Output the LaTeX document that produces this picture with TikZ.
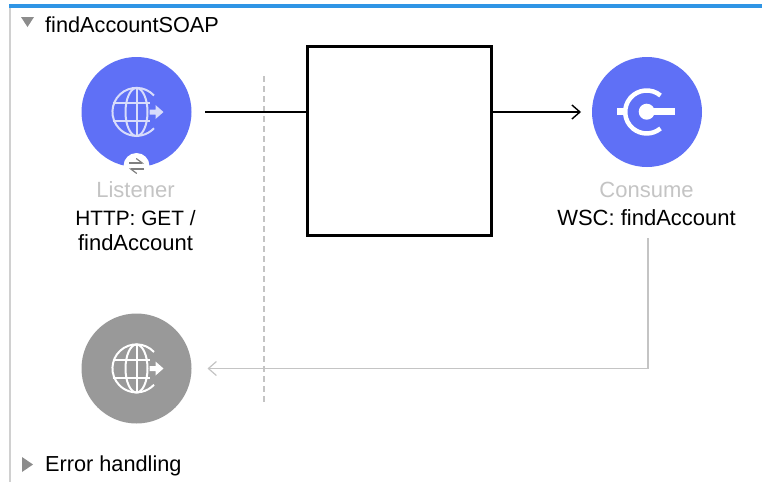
\documentclass[tikz,border=0pt]{standalone}
\usepackage{fontspec}
\setmainfont{Liberation Sans}
\usepackage{xcolor}
\usetikzlibrary{arrows.meta,positioning,calc}
\definecolor{flowblue}{HTML}{5F70F6}
\definecolor{barblue}{HTML}{2F95E5}
\definecolor{errgray}{HTML}{999999}
\definecolor{paleicon}{HTML}{D8DCFB}
\definecolor{labelgray}{HTML}{C4C4C4}
\tikzset{
    procnode/.style={circle, fill=#1, minimum size=110pt, inner sep=0pt},
    caption/.style={font=\fontsize{22}{26}\selectfont, inner sep=0pt, anchor=center},
    heading/.style={font=\fontsize{21.7}{26}\selectfont, inner sep=0pt, anchor=west},
    flowline/.style={line width=1.4pt, -{Straight Barb[length=8pt,width=14pt]}},
    backline/.style={line width=1.2pt, labelgray, -{Straight Barb[length=8pt,width=14pt]}},
}
% globe with the small arrow on its right side
\newcommand{\globeicon}[2]{
    \begin{scope}[shift={(#1)}, #2, line width=2pt]
        \draw (17.5,-16.5) arc[start angle=-43, end angle=-317, radius=24];
        \draw (0,0) ellipse (11 and 24);
        \draw (0,-24) -- (0,24);
        \draw (-24,-9) -- (13,-9);
        \draw (-24,9) -- (13,9);
        \fill[#2] (13,-2.5) -- (19,-2.5) -- (19,-7) -- (27,0) -- (19,7) -- (19,2.5) -- (13,2.5) -- cycle;
    \end{scope}
}
\begin{document}
\begin{tikzpicture}[x=1pt,y=-1pt]
    \useasboundingbox (0,0) rectangle (762,482);
    \fill[white] (0,0) rectangle (762,482);
    \fill[labelgray!80] (9,7) rectangle (11,482);
    \fill[barblue] (9,4) rectangle (762,8);
    \draw[labelgray, line width=1.3pt, dash pattern=on 6pt off 4pt] (264,76) -- (264,403);

    \fill[gray!90] (21,17) -- (34,17) -- (27.5,27) -- cycle;
    \fill[gray!90] (22,457) -- (33,464.5) -- (22,472) -- cycle;
    \node[heading] (flowname) at (45,24.5) {findAccountSOAP};
    \node[heading] (errname) at (45,466) {Error handling};

    \node[procnode=flowblue, outer sep=13.5pt] (listener) at (136.5,112) {};
    \node[procnode=flowblue, outer sep=11pt] (consume) at (647,112) {};
    \node[procnode=errgray, outer sep=16pt] (errsource) at (136.5,368.5) {};
    \node[draw, line width=3pt, minimum width=184pt, minimum height=189pt, inner sep=0pt] (blankbox) at (399,140.5) {};

    \globeicon{136.5,112}{paleicon}
    \globeicon{136.5,368.5}{white}

    % consume icon
    \draw[white, line width=4.5pt] (660.5,95.5) arc[start angle=-50, end angle=-310, radius=21.5];
    \fill[white] (646.7,111.7) circle (8);
    \fill[white] (617,108.2) rectangle (626,115.2);
    \fill[white] (646.7,108.2) rectangle (675,115.2);

    % request-response badge
    \node[circle, fill=white, minimum size=26pt, inner sep=0pt] (badge) at (136.5,166) {};
    \draw[gray, line width=1.2pt, -{Straight Barb[left,length=6pt,width=9pt]}] (129,163) -- (144,163);
    \draw[gray, line width=1.2pt, -{Straight Barb[left,length=6pt,width=9pt]}] (144,169) -- (129,169);

    \node[caption, text=labelgray] (listenerlabel) at (135.5,190) {Listener};
    \node[caption, font=\fontsize{20.8}{26}\selectfont] (listenerhttp) at (135.5,218) {HTTP: GET /};
    \node[caption] (listenerpath) at (135.5,243) {findAccount};
    \node[caption, text=labelgray] (consumelabel) at (646.5,190) {Consume};
    \node[caption] (consumewsc) at (646.5,218) {WSC: findAccount};
    \coordinate (backstart) at (648,238);

    \draw[line width=1.4pt] (listener.east) -- (listener.east -| blankbox.west);
    \draw[flowline] (consume.west -| blankbox.east) -- (consume.west);
    \draw[backline] (backstart) |- (errsource.east);
\end{tikzpicture}
\end{document}
